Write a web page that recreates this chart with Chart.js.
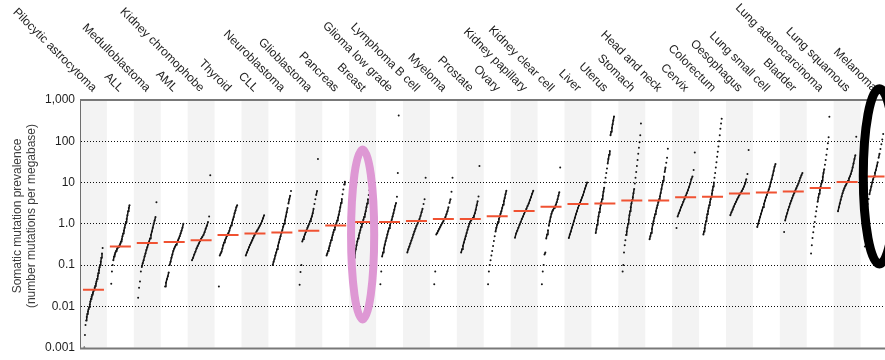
<!DOCTYPE html>
<html>
<head>
<meta charset="utf-8">
<script src="https://cdn.jsdelivr.net/npm/chart.js@4"></script>
<style>
  html, body { margin: 0; padding: 0; background: #fff; overflow: hidden; }
  #wrap { width: 900px; height: 360px; }
</style>
</head>
<body>
<div id="wrap"><canvas id="prevChart" width="900" height="360"></canvas></div>
<script>
/*** Data ***/
const cancerTypes = [
    'Pilocytic astrocytoma', 'ALL', 'Medulloblastoma', 'AML', 'Kidney chromophobe',
    'Thyroid', 'CLL', 'Neuroblastoma', 'Glioblastoma', 'Pancreas',
    'Breast', 'Glioma low grade', 'Lymphoma B cell', 'Myeloma', 'Prostate',
    'Ovary', 'Kidney papillary', 'Kidney clear cell', 'Liver', 'Uterus',
    'Stomach', 'Head and neck', 'Cervix', 'Colorectum', 'Oesophagus',
    'Lung small cell', 'Bladder', 'Lung adenocarcinoma', 'Lung squamous', 'Melanoma'
];

const medianValues = [
    0.025, 0.28, 0.34, 0.36, 0.40, 0.53, 0.58, 0.61, 0.68, 0.91,
    1.10, 1.10, 1.16, 1.31, 1.31, 1.52, 2.03, 2.6, 3.0, 3.1,
    3.65, 3.65, 4.4, 4.5, 5.4, 5.7, 6.05, 7.4, 10.3, 14
];

// per-sample mutation prevalence, sorted low -> high, one list per cancer type
const sampleValues = [
    [0.001, 0.002, 0.0035, 0.0045, 0.0055, 0.0065, 0.0075, 0.0085, 0.0095, 0.011, 0.013, 0.015, 0.017, 0.019, 0.021, 0.023, 0.025, 0.028, 0.031, 0.035, 0.04, 0.046, 0.054, 0.063, 0.075, 0.088, 0.1, 0.12, 0.15, 0.19, 0.26],
    [0.035, 0.07, 0.1, 0.13, 0.16, 0.18, 0.2, 0.22, 0.24, 0.26, 0.27, 0.28, 0.3, 0.33, 0.37, 0.42, 0.5, 0.58, 0.68, 0.8, 0.95, 1.1, 1.3, 1.6, 2.0, 2.4, 2.8],
    [0.016, 0.028, 0.04, 0.07, 0.09, 0.11, 0.13, 0.16, 0.19, 0.23, 0.27, 0.32, 0.37, 0.44, 0.53, 0.65, 0.8, 1.0, 1.2, 1.45, 3.3],
    [0.03, 0.037, 0.045, 0.053, 0.066, 0.1, 0.12, 0.15, 0.18, 0.22, 0.25, 0.28, 0.31, 0.35, 0.39, 0.44, 0.5, 0.58, 0.68, 0.8, 1.0],
    [0.13, 0.15, 0.18, 0.21, 0.25, 0.29, 0.33, 0.38, 0.43, 0.48, 0.53, 0.62, 0.76, 0.9, 1.1, 1.5, 15],
    [0.03, 0.17, 0.19, 0.21, 0.25, 0.3, 0.35, 0.4, 0.44, 0.5, 0.55, 0.6, 0.68, 0.8, 0.91, 1.05, 1.25, 1.45, 1.8, 2.1, 2.5, 2.8],
    [0.17, 0.2, 0.23, 0.27, 0.31, 0.35, 0.4, 0.46, 0.52, 0.58, 0.65, 0.72, 0.8, 0.9, 1.0, 1.15, 1.35, 1.6],
    [0.1, 0.12, 0.14, 0.17, 0.2, 0.24, 0.29, 0.35, 0.42, 0.5, 0.6, 0.7, 0.85, 1.0, 1.2, 1.5, 1.9, 2.4, 3.1, 3.9, 4.8, 6.2],
    [0.033, 0.068, 0.1, 0.37, 0.42, 0.48, 0.55, 0.62, 0.7, 0.8, 0.9, 1.0, 1.15, 1.3, 1.5, 1.8, 2.3, 3.0, 3.9, 5.0, 6.2, 37],
    [0.17, 0.19, 0.22, 0.25, 0.29, 0.34, 0.4, 0.46, 0.53, 0.62, 0.72, 0.82, 0.93, 1.05, 1.2, 1.4, 1.65, 2.0, 2.5, 3.2, 4.0, 5.2, 6.8, 9.0, 10.5],
    [0.12, 0.15, 0.19, 0.24, 0.3, 0.37, 0.44, 0.52, 0.6, 0.7, 0.83, 0.95, 1.1, 1.25, 1.45, 1.7, 2.0, 2.5, 3.1, 3.9, 5.0, 6.5, 8.5, 11, 14],
    [0.034, 0.07, 0.16, 0.2, 0.25, 0.31, 0.38, 0.45, 0.55, 0.66, 0.78, 0.92, 1.08, 1.25, 1.5, 1.8, 2.2, 2.7, 3.2, 4.5, 17, 420],
    [0.2, 0.24, 0.28, 0.33, 0.39, 0.46, 0.55, 0.65, 0.76, 0.88, 1.0, 1.15, 1.3, 1.55, 1.9, 2.3, 3.0, 3.9, 13],
    [0.034, 0.07, 0.55, 0.6, 0.68, 0.76, 0.85, 0.95, 1.05, 1.15, 1.3, 1.45, 1.7, 2.0, 2.5, 3.2, 3.9, 6.0, 13],
    [0.2, 0.24, 0.29, 0.35, 0.42, 0.5, 0.6, 0.72, 0.85, 1.0, 1.12, 1.22, 1.3, 1.4, 1.55, 1.8, 2.2, 2.8, 3.5, 4.6, 25],
    [0.034, 0.07, 0.1, 0.13, 0.17, 0.22, 0.29, 0.38, 0.5, 0.65, 0.8, 0.95, 1.1, 1.3, 1.5, 1.75, 2.0, 2.4, 2.9, 3.5, 4.2, 5.2, 6.3],
    [0.46, 0.58, 0.68, 0.8, 0.95, 1.1, 1.3, 1.5, 1.75, 2.0, 2.3, 2.7, 3.1, 3.7, 4.4, 5.3, 6.3],
    [0.034, 0.07, 0.1, 0.18, 0.2, 0.44, 0.55, 0.7, 0.9, 1.15, 1.45, 1.75, 2.0, 2.2, 2.4, 2.6, 2.9, 3.3, 3.9, 4.8, 5.8, 23],
    [0.45, 0.55, 0.65, 0.8, 0.95, 1.15, 1.4, 1.7, 2.0, 2.4, 2.8, 3.2, 3.7, 4.3, 5.0, 6.0, 7.2, 8.5, 10],
    [0.6, 0.75, 0.95, 1.2, 1.5, 1.9, 2.3, 2.8, 3.3, 3.9, 4.8, 6.0, 7.5, 10, 13, 17, 22, 29, 37, 47, 58, 140, 170, 210, 260, 320, 400],
    [0.07, 0.1, 0.2, 0.3, 0.4, 0.53, 0.65, 0.8, 1.0, 1.25, 1.6, 2.0, 2.5, 3.1, 3.7, 4.4, 5.5, 7.0, 9.5, 13, 18, 25, 35, 50, 70, 95, 140, 270],
    [0.42, 0.5, 0.6, 0.75, 0.95, 1.15, 1.4, 1.7, 2.0, 2.4, 2.8, 3.3, 3.9, 4.6, 5.6, 7.0, 8.8, 11, 14, 18, 23, 30, 40, 66],
    [0.79, 1.5, 1.8, 2.1, 2.5, 2.9, 3.4, 4.0, 4.7, 5.5, 6.5, 7.8, 9.5, 12, 14, 20, 53],
    [0.55, 0.65, 0.78, 0.95, 1.15, 1.4, 1.7, 2.0, 2.4, 2.8, 3.3, 3.9, 4.5, 5.3, 6.5, 8.0, 10, 13, 17, 23, 31, 42, 56, 75, 100, 140, 200, 270, 350],
    [1.6, 1.9, 2.2, 2.6, 3.0, 3.4, 3.9, 4.4, 5.0, 5.6, 6.2, 7.0, 8.0, 9.5, 12, 16, 61],
    [0.83, 1.0, 1.2, 1.45, 1.75, 2.1, 2.5, 3.0, 3.6, 4.3, 5.0, 5.8, 6.8, 8.0, 10, 12, 15, 19, 24, 28],
    [0.63, 1.2, 1.5, 1.8, 2.2, 2.6, 3.1, 3.6, 4.2, 4.9, 5.6, 6.4, 7.3, 8.3, 9.5, 11, 13, 15, 17],
    [0.19, 0.3, 0.45, 0.62, 0.85, 1.1, 1.5, 2.0, 2.6, 3.4, 4.3, 5.3, 6.5, 7.8, 9.3, 11, 13.5, 17, 21, 27, 35, 47, 65, 90, 125, 390],
    [2.0, 2.5, 3.1, 3.8, 4.6, 5.5, 6.4, 7.3, 8.2, 9.0, 10, 11, 12.5, 14, 16, 19, 23, 29, 37, 46, 128],
    [0.28, 1.2, 2.0, 3.0, 4.0, 5.2, 6.5, 8.0, 10, 12, 14, 17, 20, 25, 31, 40, 50, 65, 85, 110, 150]
];

const yTickValues = [0.001, 0.01, 0.1, 1, 10, 100, 1000];
const yTickLabels = ['0.001', '0.01', '0.1', '1.0', '10', '100', '1,000'];

// hand drawn marks on the figure
const highlights = [
    { at: 10, halfWidth: 0.43, top: 63, bottom: 0.0048, color: 'rgb(222, 152, 212)', width: 8 },
    { at: 29.2, halfWidth: 0.6, top: 1870, bottom: 0.106, color: 'rgb(0, 0, 0)', width: 9 }
];

/*** Styles ***/
const fontFamily = "'Liberation Sans', Arial, Helvetica, sans-serif";
const dotColor = 'rgb(20, 20, 20)';
const medianColor = 'rgb(240, 82, 50)';
const spread = 0.68;

/*** Datasets ***/
var datasets = [{
    label: 'Median',
    data: medianValues.map((v, i) => ({ x: i, y: v })),
    showLine: false,
    pointStyle: 'line',
    pointRadius: 10.5,
    pointBorderWidth: 2,
    borderColor: medianColor,
    backgroundColor: medianColor
}];

sampleValues.forEach(function (values, i) {
    const n = values.length;
    datasets.push({
        label: cancerTypes[i],
        data: values.map((v, k) => ({ x: i - spread / 2 + spread * k / (n - 1), y: v })),
        showLine: true,
        borderWidth: 1.5,
        borderColor: dotColor,
        pointRadius: 1,
        pointBorderWidth: 0,
        pointBackgroundColor: dotColor,
        segment: {
            borderColor: function (ctx) {
                const d = Math.hypot(ctx.p1.x - ctx.p0.x, ctx.p1.y - ctx.p0.y);
                return d > 4.5 ? 'rgba(0,0,0,0)' : dotColor;
            }
        }
    });
});

/*** Plugins ***/
const bandsPlugin = {
    id: 'bands',
    beforeDraw: function (chart) {
        const ctx = chart.ctx, x = chart.scales.x, area = chart.chartArea;
        ctx.save();
        ctx.fillStyle = 'rgb(243, 243, 243)';
        cancerTypes.forEach(function (name, i) {
            if (i % 2) return;
            const l = x.getPixelForValue(i - 0.5), r = x.getPixelForValue(i + 0.5);
            ctx.fillRect(l, area.top, r - l, area.bottom - area.top);
        });
        ctx.restore();
    }
};

const framePlugin = {
    id: 'frame',
    afterDraw: function (chart) {
        const ctx = chart.ctx, x = chart.scales.x, area = chart.chartArea;
        ctx.save();
        // top and bottom rules
        ctx.strokeStyle = 'rgb(120, 120, 120)';
        ctx.lineWidth = 2;
        ctx.beginPath();
        ctx.moveTo(area.left, area.top);
        ctx.lineTo(area.right, area.top);
        ctx.moveTo(area.left, area.bottom + 1);
        ctx.lineTo(area.right, area.bottom + 1);
        ctx.stroke();

        // slanted category names above the plot
        ctx.fillStyle = 'rgb(30, 30, 30)';
        ctx.font = '12px ' + fontFamily;
        ctx.textAlign = 'right';
        ctx.textBaseline = 'middle';
        cancerTypes.forEach(function (name, i) {
            ctx.save();
            ctx.translate(x.getPixelForValue(i) + 1, area.top - 10);
            ctx.rotate(Math.PI / 4);
            ctx.fillText(name, 0, 0);
            ctx.restore();
        });

        // axis title
        ctx.fillStyle = 'rgb(60, 60, 60)';
        ctx.textAlign = 'center';
        ctx.textBaseline = 'middle';
        ctx.translate(0, 216);
        ctx.rotate(-Math.PI / 2);
        ctx.fillText('Somatic mutation prevalence', 0, 18);
        ctx.fillText('(number mutations per megabase)', 0, 32);
        ctx.restore();

        // highlight ellipses
        const y = chart.scales.y;
        highlights.forEach(function (h) {
            const cx = x.getPixelForValue(h.at);
            const rx = x.getPixelForValue(h.at + h.halfWidth) - cx;
            const t = y.getPixelForValue(h.top), b = y.getPixelForValue(h.bottom);
            ctx.save();
            ctx.strokeStyle = h.color;
            ctx.lineWidth = h.width;
            ctx.beginPath();
            ctx.ellipse(cx, (t + b) / 2, rx, (b - t) / 2, 0, 0, Math.PI * 2);
            ctx.stroke();
            ctx.restore();
        });
    }
};

/*** Chart ***/
Chart.defaults.font.family = fontFamily;

new Chart(document.getElementById('prevChart'), {
    type: 'scatter',
    data: { datasets: datasets },
    plugins: [bandsPlugin, framePlugin],
    options: {
        responsive: false,
        animation: false,
        devicePixelRatio: 1,
        layout: {
            padding: { top: 100, right: 10, bottom: 5, left: 0 }
        },
        plugins: {
            legend: { display: false },
            tooltip: { enabled: false }
        },
        scales: {
            x: {
                type: 'linear',
                min: -0.5,
                max: cancerTypes.length - 0.5,
                display: false
            },
            y: {
                type: 'logarithmic',
                min: yTickValues[0],
                max: yTickValues[yTickValues.length - 1],
                afterFit: function (scale) {
                    scale.width = 80;
                },
                afterBuildTicks: function (scale) {
                    scale.ticks = yTickValues.map(v => ({ value: v }));
                },
                ticks: {
                    color: 'rgb(30, 30, 30)',
                    font: { size: 12 },
                    padding: 5,
                    callback: function (value) {
                        const k = yTickValues.indexOf(value);
                        return k >= 0 ? yTickLabels[k] : '';
                    }
                },
                grid: {
                    drawTicks: false,
                    lineWidth: 1,
                    color: function (ctx) {
                        const v = ctx.tick && ctx.tick.value;
                        return (v === yTickValues[0] || v === yTickValues[yTickValues.length - 1]) ? 'rgba(0,0,0,0)' : 'rgb(15, 15, 15)';
                    }
                },
                border: {
                    display: true,
                    color: 'rgb(110, 110, 110)',
                    width: 1,
                    dash: [1, 2]
                }
            }
        }
    }
});
</script>
</body>
</html>
